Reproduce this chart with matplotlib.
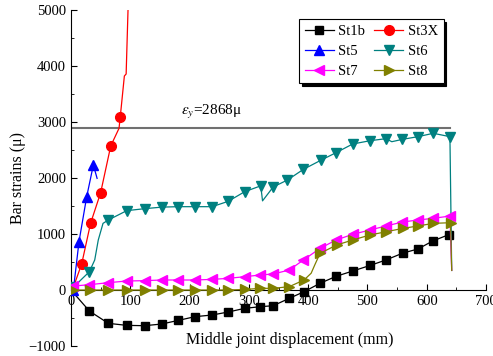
import numpy as np
import matplotlib
matplotlib.use("Agg")
import matplotlib.pyplot as plt
from matplotlib.ticker import MultipleLocator

plt.rcParams["font.family"] = ["Liberation Serif", "DejaVu Serif"]
plt.rcParams["mathtext.fontset"] = "stix"

# Dados
st1b_x = [0, 31, 63, 94, 124, 153, 181, 209, 238, 265, 293, 319, 341, 368, 393,
          420, 447, 475, 505, 531, 560, 585, 610, 637]
st1b_y = [0, -375, -595, -631, -637, -607, -542, -476, -446, -393, -327, -298, -280,
          -149, -30, 120, 244, 339, 441, 536, 661, 732, 875, 988]

st3x_x = [4, 18, 33, 50, 67, 81, 83, 90, 93, 97]
st3x_y = [50, 464, 1190, 1738, 2571, 2887, 3083, 3821, 3857, 5300]
st3x_mk = [1, 2, 3, 4, 6]

st5_x = [4, 13.5, 26.5, 37.7, 44]
st5_y = [0, 863, 1667, 2232, 1994]
st5_mk = [0, 1, 2, 3]

st6_x = [4, 31, 40, 46, 54, 63, 94, 124, 153, 181, 209, 238, 265, 293, 320, 323,
         341, 365, 392, 421, 447, 475, 505, 531, 541, 559, 585, 611, 639, 642]
st6_y = [50, 327, 536, 893, 1190, 1250, 1417, 1452, 1480, 1488, 1488, 1488, 1583,
         1756, 1860, 1592, 1840, 1964, 2155, 2315, 2452, 2607, 2667, 2702, 2648,
         2690, 2738, 2798, 2738, 350]
st6_mk = [0, 1, 5, 6, 7, 8, 9, 10, 11, 12, 13, 14, 16, 17, 18, 19, 20, 21, 22, 23,
          25, 26, 27, 28]

st7_x = [4, 31, 63, 94, 124, 153, 181, 209, 238, 265, 293, 319, 341, 368, 392, 420,
         447, 475, 504, 531, 559, 585, 611, 639, 642]
st7_y = [71, 95, 131, 161, 167, 179, 179, 179, 190, 208, 238, 268, 286, 357, 536,
         744, 893, 994, 1071, 1143, 1214, 1250, 1280, 1321, 350]

st8_x = [4, 32, 63, 94, 124, 153, 181, 209, 238, 265, 293, 319, 341, 368, 393, 405,
         411, 420, 448, 475, 504, 532, 560, 585, 611, 640, 642]
st8_y = [0, 0, 0, 0, 0, 0, 0, 0, 0, 0, 10, 30, 30, 60, 179, 300, 446, 655, 804, 893,
         982, 1042, 1101, 1143, 1190, 1202, 350]
st8_mk = [i for i in range(len(st8_x)) if i not in (15, 16, len(st8_x) - 1)]

yield_strain = 2900
yield_label = r"$\varepsilon_y$=2868μ"

fig = plt.figure(figsize=(4.93, 3.56), dpi=100)
ax = fig.add_axes([0.144, 0.028, 0.842, 0.944])

# Linha de escoamento
ax.plot([0, 639], [yield_strain, yield_strain], color="#707070", lw=1.5, zorder=1)
ax.text(236, 3170, yield_label, ha="center", va="center", fontsize=11)

kw = dict(lw=0.9, zorder=3)
l1, = ax.plot(st1b_x, st1b_y, "-s", color="black", ms=6, label="St1b", **kw)
l3, = ax.plot(st3x_x, st3x_y, "-o", color="red", ms=7, markevery=st3x_mk, label="St3X", **kw)
l5, = ax.plot(st5_x, st5_y, "-^", color="blue", ms=7.5, markevery=st5_mk, label="St5", **kw)
l6, = ax.plot(st6_x, st6_y, "-v", color="#008080", ms=7.5, markevery=st6_mk, label="St6", **kw)
l7, = ax.plot(st7_x, st7_y, "-<", color="magenta", ms=7.5, markevery=slice(0, -1), label="St7", **kw)
l8, = ax.plot(st8_x, st8_y, "->", color="#808000", ms=7.5, markevery=st8_mk, label="St8", **kw)

# Eixos
ax.set_xlim(0, 700)
ax.set_ylim(-1000, 5000)
ax.spines["top"].set_visible(False)
ax.spines["right"].set_visible(False)
ax.spines["bottom"].set_position(("data", 0))
ax.xaxis.set_major_locator(MultipleLocator(100))
ax.xaxis.set_minor_locator(MultipleLocator(50))
ax.yaxis.set_major_locator(MultipleLocator(1000))
ax.yaxis.set_minor_locator(MultipleLocator(500))
ax.tick_params(which="both", direction="in", labelsize=10.5)
ax.tick_params(which="major", length=4)
ax.tick_params(which="minor", length=2.5)
ax.set_xlabel("Middle joint displacement (mm)", fontsize=11.5, va="center")
ax.xaxis.set_label_coords(0.527, 0.018)
ax.set_ylabel("Bar strains (μ)", fontsize=11.5, labelpad=2)

leg = ax.legend(handles=[l1, l5, l7, l3, l6, l8], ncol=2, loc="upper left",
                bbox_to_anchor=(0.549, 0.973), borderaxespad=0, fontsize=10.5,
                fancybox=False, edgecolor="black", framealpha=1,
                shadow={"color": "black", "alpha": 1}, handlelength=2.0,
                columnspacing=0.6, handletextpad=0.3, labelspacing=0.45,
                borderpad=0.4)
leg.get_frame().set_linewidth(0.8)

fig.savefig("out.png", dpi=100)
